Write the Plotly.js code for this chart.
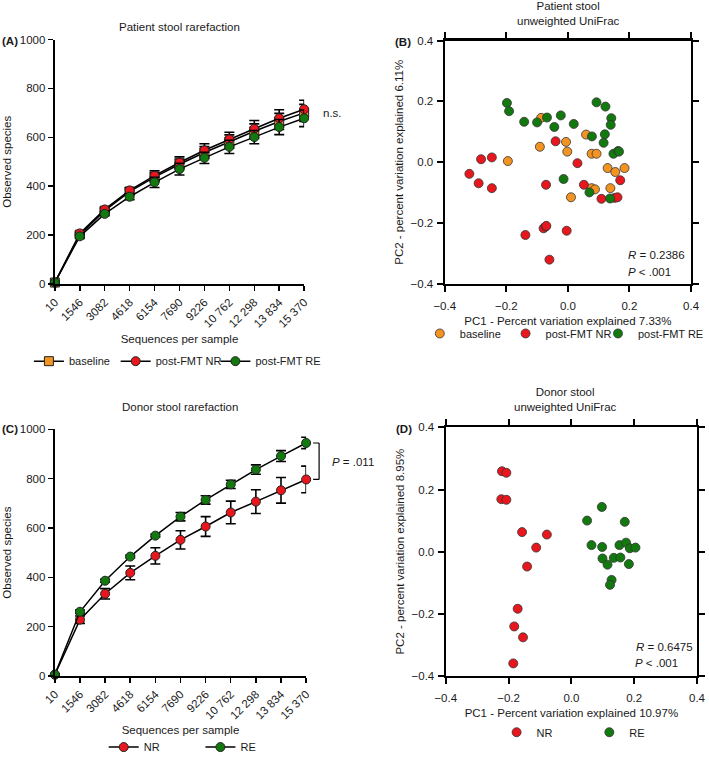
<!DOCTYPE html>
<html>
<head>
<meta charset="utf-8">
<script src="https://cdn.plot.ly/plotly-3.0.1.min.js"></script>
<style>html,body{margin:0;padding:0;background:#fff;}#chart{width:709px;height:762px;}</style>
</head>
<body>
<div id="chart"></div>
<script>
// ---------- DATA ----------
const seqLabels = ['10','1546','3082','4618','6154','7690','9226','10 762','12 298','13 834','15 370'];

// Panel A: patient stool rarefaction
const baselineA    = [6, 202, 300, 378, 437, 490, 538, 583, 625, 665, 700];
const baselineAErr = [2, 6, 8, 11, 18, 21, 24, 27, 30, 33, 35];
const nrA          = [6, 207, 305, 383, 443, 497, 547, 592, 635, 678, 715];
const nrAErr       = [2, 6, 8, 12, 20, 23, 27, 29, 34, 35, 37];
const reA          = [6, 195, 287, 357, 416, 470, 516, 561, 601, 642, 678];
const reAErr       = [2, 6, 8, 12, 21, 24, 23, 27, 27, 31, 34];

// Panel B: patient stool PCoA
const baselineBx = [-0.087, -0.091, -0.195, -0.006, -0.002, 0.059, 0.077, 0.093, 0.129, 0.154, 0.184, 0.077, 0.088, 0.138, 0.010];
const baselineBy = [0.146, 0.051, 0.004, 0.067, 0.035, 0.091, 0.028, 0.028, -0.019, -0.032, -0.019, -0.085, -0.089, -0.085, -0.115];
const nrBx = [-0.320, -0.290, -0.282, -0.247, -0.247, -0.040, -0.071, 0.031, 0.052, 0.109, 0.170, 0.152, 0.161, -0.138, -0.079, -0.072, -0.070, -0.004, -0.060];
const nrBy = [-0.038, -0.069, 0.010, 0.016, -0.085, 0.069, -0.074, -0.003, -0.074, -0.120, -0.059, -0.117, -0.115, -0.239, -0.217, -0.211, -0.209, -0.225, -0.320];
const reBx = [-0.198, -0.191, -0.142, -0.100, -0.068, -0.044, -0.023, 0.019, 0.093, 0.122, 0.141, 0.139, 0.120, 0.078, 0.116, 0.148, 0.163, 0.166, -0.014, 0.070, 0.137];
const reBy = [0.195, 0.168, 0.133, 0.131, 0.147, 0.116, 0.154, 0.126, 0.197, 0.183, 0.145, 0.123, 0.092, 0.085, 0.064, 0.028, 0.037, 0.035, -0.055, -0.099, -0.119];

// Panel C: donor stool rarefaction
const nrC    = [5, 228, 333, 418, 487, 552, 606, 663, 707, 753, 797];
const nrCErr = [2, 15, 21, 28, 33, 37, 40, 46, 48, 52, 54];
const reC    = [5, 260, 386, 484, 569, 646, 714, 777, 837, 892, 945];
const reCErr = [2, 7, 6, 5, 5, 17, 17, 17, 19, 22, 23];

// Panel D: donor stool PCoA
const nrDx = [-0.221, -0.207, -0.223, -0.207, -0.157, -0.078, -0.112, -0.141, -0.171, -0.182, -0.154, -0.185];
const nrDy = [0.259, 0.254, 0.169, 0.167, 0.063, 0.055, 0.013, -0.048, -0.184, -0.241, -0.276, -0.360];
const reDx = [0.050, 0.097, 0.170, 0.064, 0.098, 0.099, 0.115, 0.135, 0.156, 0.153, 0.174, 0.186, 0.204, 0.183, 0.128, 0.123];
const reDy = [0.100, 0.144, 0.096, 0.021, 0.015, -0.022, -0.042, -0.020, -0.019, 0.021, 0.029, 0.011, 0.013, -0.040, -0.091, -0.107];

// ---------- STYLE ----------
const ORANGE = '#F39422', RED = '#E8171D', GREEN = '#12790F';
const FONT = 'Liberation Sans, Arial, Helvetica, sans-serif';
const FS = 11.5;
const TXT = '#1a1a1a';
const W = 709, H = 762;
const px = v => v / W, py = v => 1 - v / H;

function rareTrace(y, err, color, symbol, name, xa, ya, legend) {
  return {
    type: 'scatter', mode: 'lines+markers', x: seqLabels, y: y, name: name,
    xaxis: xa, yaxis: ya, legend: legend, cliponaxis: false,
    line: {color: '#000', width: 1.5},
    marker: {color: color, symbol: symbol, size: 9, line: {color: '#222', width: 1}},
    error_y: {type: 'data', array: err, visible: true, color: '#000', thickness: 1.6, width: 5}
  };
}
function pcTrace(x, y, color, name, xa, ya, legend) {
  return {
    type: 'scatter', mode: 'markers', x: x, y: y, name: name,
    xaxis: xa, yaxis: ya, legend: legend, cliponaxis: false,
    marker: {color: color, size: 9, line: {color: '#333', width: 0.8}}
  };
}

const traces = [
  rareTrace(baselineA, baselineAErr, ORANGE, 'square', 'baseline', 'x', 'y', 'legend'),
  rareTrace(nrA, nrAErr, RED, 'circle', 'post-FMT NR', 'x', 'y', 'legend2'),
  rareTrace(reA, reAErr, GREEN, 'circle', 'post-FMT RE', 'x', 'y', 'legend3'),
  pcTrace(baselineBx, baselineBy, ORANGE, 'baseline', 'x2', 'y2', 'legend4'),
  pcTrace(nrBx, nrBy, RED, 'post-FMT NR', 'x2', 'y2', 'legend5'),
  pcTrace(reBx, reBy, GREEN, 'post-FMT RE', 'x2', 'y2', 'legend6'),
  rareTrace(nrC, nrCErr, RED, 'circle', 'NR', 'x3', 'y3', 'legend7'),
  rareTrace(reC, reCErr, GREEN, 'circle', 'RE', 'x3', 'y3', 'legend8'),
  pcTrace(nrDx, nrDy, RED, 'NR', 'x4', 'y4', 'legend9'),
  pcTrace(reDx, reDy, GREEN, 'RE', 'x4', 'y4', 'legend10')
];

const tf = (s) => ({family: FONT, size: s || FS, color: TXT});
function catX(domain, anchor) {
  return {
    domain: domain, anchor: anchor, type: 'category', range: [0, seqLabels.length - 1],
    tickangle: -45, ticks: 'outside', ticklen: 5, tickwidth: 1.5, tickcolor: '#000',
    showline: true, linewidth: 2.2, linecolor: '#000', showgrid: false, zeroline: false,
    tickfont: tf(), automargin: false,
    title: {text: 'Sequences per sample', font: tf(), standoff: 6}
  };
}
function countY(domain, anchor) {
  return {
    domain: domain, anchor: anchor, range: [0, 1000], dtick: 200,
    ticks: 'outside', ticklen: 5, tickwidth: 1.5, tickcolor: '#000',
    showline: true, linewidth: 2.2, linecolor: '#000', showgrid: false, zeroline: false,
    tickfont: tf(), automargin: false,
    title: {text: 'Observed species', font: tf(), standoff: 6}
  };
}
function pcAxis(domain, anchor, title, isX) {
  return {
    domain: domain, anchor: anchor, range: [-0.4, 0.4], dtick: 0.2, tick0: -0.4, tickformat: '.1f',
    ticks: 'outside', ticklen: 6, tickwidth: 2, tickcolor: '#000', mirror: 'ticks',
    showline: true, linewidth: 2.2, linecolor: '#000', showgrid: false, zeroline: false,
    tickfont: tf(), automargin: false, ticklabelstandoff: isX ? 4 : 1,
    title: {text: title, font: tf(), standoff: isX ? 6 : 5}
  };
}

const ann = (text, x, y, opts) => Object.assign({
  text: text, x: x, y: y, xref: 'paper', yref: 'paper', showarrow: false,
  font: tf(), xanchor: 'center', yanchor: 'middle'
}, opts || {});

// legend item placed so that its symbol centre sits at (sx, sy) in pixels
const legAt = (sx, sy) => ({
  orientation: 'h', font: tf(11), bgcolor: 'rgba(0,0,0,0)', borderwidth: 0,
  xanchor: 'left', yanchor: 'middle', x: px(sx - 19), y: py(sy), itemclick: false
});

const layout = {
  width: W, height: H, margin: {l: 0, r: 0, t: 0, b: 0},
  paper_bgcolor: '#fff', plot_bgcolor: 'rgba(0,0,0,0)',
  font: tf(), showlegend: true,
  xaxis: catX([px(55), px(305)], 'y'),
  yaxis: countY([py(287), py(40)], 'x'),
  xaxis2: pcAxis([px(446), px(693)], 'y2', 'PC1 - Percent variation explained 7.33%', true),
  yaxis2: pcAxis([py(287), py(41)], 'x2', 'PC2 - percent variation explained 6.11%', false),
  xaxis3: catX([px(55), px(307)], 'y3'),
  yaxis3: countY([py(683), py(434)], 'x3'),
  xaxis4: pcAxis([px(447), px(699)], 'y4', 'PC1 - Percent variation explained 10.97%', true),
  yaxis4: pcAxis([py(683), py(432)], 'x4', 'PC2 - percent variation explained 8.95%', false),
  legend:   legAt(48, 365),
  legend2:  legAt(135, 365),
  legend3:  legAt(235, 365),
  legend4:  legAt(440, 337),
  legend5:  legAt(526, 337),
  legend6:  legAt(619, 337),
  legend7:  legAt(123, 755),
  legend8:  legAt(220, 755),
  legend9:  legAt(517, 740),
  legend10: legAt(610, 740),
  annotations: [
    ann('Patient stool rarefaction', px(180), py(27)),
    ann('Patient stool<br>unweighted UniFrac', px(570), py(14)),
    ann('Donor stool rarefaction', px(181), py(411)),
    ann('Donor stool<br>unweighted UniFrac', px(567), py(404)),
    ann('<b>(A)</b>', px(0), py(41), {xanchor: 'left'}),
    ann('<b>(B)</b>', px(394), py(42), {xanchor: 'left'}),
    ann('<b>(C)</b>', px(0), py(434), {xanchor: 'left'}),
    ann('<b>(D)</b>', px(395), py(434), {xanchor: 'left'}),
    ann('n.s.', px(322), py(114), {xanchor: 'left'}),
    ann('<i>P</i> = .011', px(331), py(467), {xanchor: 'left'}),
    ann('<i>R</i> = 0.2386', px(628), py(258), {xanchor: 'left'}),
    ann('<i>P</i> < .001', px(628), py(275), {xanchor: 'left'}),
    ann('<i>R</i> = 0.6475', px(636), py(654), {xanchor: 'left'}),
    ann('<i>P</i> < .001', px(635), py(670), {xanchor: 'left'})
  ],
  shapes: [
    {type: 'line', xref: 'paper', yref: 'y3', x0: px(320), x1: px(320), y0: reC[reC.length-1], y1: nrC[nrC.length-1], line: {color: '#000', width: 1.2}},
    {type: 'line', xref: 'paper', yref: 'y3', x0: px(314), x1: px(320), y0: reC[reC.length-1], y1: reC[reC.length-1], line: {color: '#000', width: 1.2}},
    {type: 'line', xref: 'paper', yref: 'y3', x0: px(314), x1: px(320), y0: nrC[nrC.length-1], y1: nrC[nrC.length-1], line: {color: '#000', width: 1.2}}
  ]
};

Plotly.newPlot('chart', traces, layout, {staticPlot: true, displayModeBar: false});
</script>
</body>
</html>
